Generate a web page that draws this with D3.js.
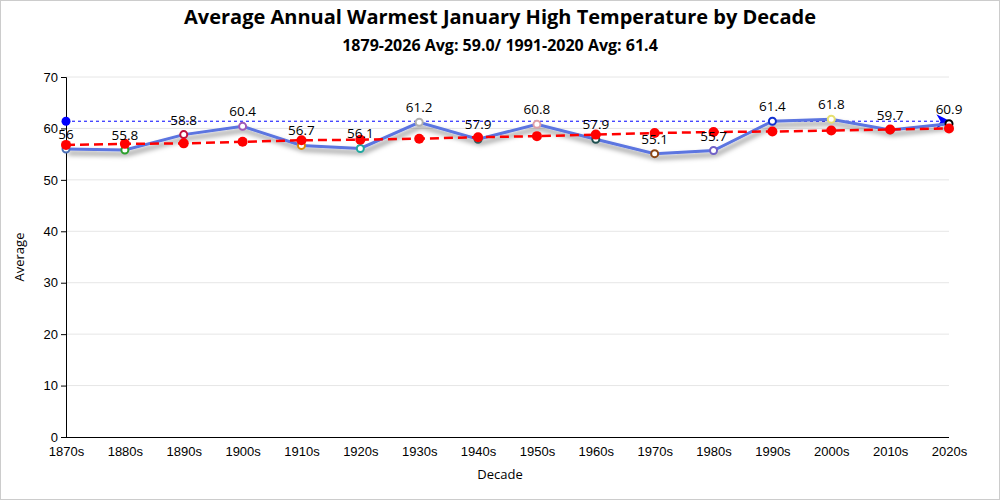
<!DOCTYPE html>
<html><head><meta charset="utf-8">
<script src="https://cdn.jsdelivr.net/npm/d3@7"></script>
<style>
body{margin:0;background:#fff;}
svg{font-family:"Open Sans","Noto Sans",sans-serif;}
</style></head>
<body><svg id="c" width="1000" height="500"></svg>
<script>
const decades = ["1870s","1880s","1890s","1900s","1910s","1920s","1930s","1940s","1950s","1960s","1970s","1980s","1990s","2000s","2010s","2020s"];
const averages = [56.0,55.8,58.8,60.4,56.7,56.1,61.2,57.9,60.8,57.9,55.1,55.7,61.4,61.8,59.7,60.9];
const trend = [56.8,57.0,57.1,57.4,57.7,57.8,58.0,58.3,58.5,58.8,59.1,59.3,59.4,59.6,59.8,60.0];
const normalAvg = 61.4;
const markerColors = ["#4a6fb5","#2ca02c","#c0103c","#a05ab8","#e08a00","#20a8a0","#b0b0b0","#2f5f5f","#e0a0a8","#1f5050","#8b4513","#7060c8","#1030d0","#e6e070","#808080","#000000"];
const yTicks = [0,10,20,30,40,50,60,70];

const svg = d3.select("#c");
svg.append("rect").attr("x",0.5).attr("y",0.5).attr("width",999).attr("height",499).attr("fill","#fff").attr("stroke","#ccc");
const defs = svg.append("defs");
const f = defs.append("filter").attr("id","sh").attr("x","-10%").attr("y","-50%").attr("width","120%").attr("height","200%");
f.append("feDropShadow").attr("dx",2).attr("dy",4).attr("stdDeviation",2.5).attr("flood-color","#000").attr("flood-opacity",0.5);
defs.append("marker").attr("id","arr").attr("viewBox","0 0 10 10").attr("refX",9).attr("refY",5)
  .attr("markerWidth",16).attr("markerHeight",14).attr("markerUnits","userSpaceOnUse").attr("orient","auto")
  .append("path").attr("d","M0,0 L10,5 L0,10 L3,5 Z").attr("fill","#0000ff");

const L=66,R=949,T=77,B=437;
const x = d3.scalePoint().domain(decades).range([L,R]);
const y = d3.scaleLinear().domain([0,70]).range([B,T]);

// grid
svg.append("g").selectAll("line").data(yTicks.filter(d=>d>0)).join("line")
  .attr("x1",L).attr("x2",R).attr("y1",d=>y(d)).attr("y2",d=>y(d)).attr("stroke","#e6e6e6");

// axes
const ya = svg.append("g").attr("transform",`translate(${L},0)`).call(d3.axisLeft(y).tickValues(yTicks).tickSize(5).tickPadding(3));
ya.selectAll("text").attr("font-size",13).attr("fill","#000");
ya.select(".domain").attr("stroke","#000");
const xa = svg.append("g").attr("transform",`translate(0,${B})`).call(d3.axisBottom(x).tickSize(0).tickPadding(10).tickSizeOuter(0));
xa.selectAll("text").attr("font-size",13).attr("fill","#000");
xa.select(".domain").attr("stroke","#000").attr("d",`M${L},0.5H${R}`);

// titles
svg.append("text").attr("x",500).attr("y",24).attr("text-anchor","middle").attr("font-size",20).attr("font-weight","bold").text("Average Annual Warmest January High Temperature by Decade");
svg.append("text").attr("x",500).attr("y",51).attr("text-anchor","middle").attr("font-size",16).attr("font-weight","bold").text("1879-2026 Avg: 59.0/ 1991-2020 Avg: 61.4");
svg.append("text").attr("x",500).attr("y",479).attr("text-anchor","middle").attr("font-size",13).text("Decade");
svg.append("text").attr("transform","translate(24,257) rotate(-90)").attr("text-anchor","middle").attr("font-size",13).text("Average");

// normal avg line
svg.append("line").attr("x1",x(decades[0])).attr("x2",x(decades[decades.length-1])).attr("y1",y(normalAvg)).attr("y2",y(normalAvg))
  .attr("stroke","#0000ff").attr("stroke-width",1).attr("stroke-dasharray","3,3").attr("marker-end","url(#arr)");
svg.append("circle").attr("cx",x(decades[0])).attr("cy",y(normalAvg)).attr("r",4.5).attr("fill","#0000ff");

// main line
const line = d3.line().x((d,i)=>x(decades[i])).y(d=>y(d));
svg.append("path").datum(averages).attr("d",line).attr("fill","none").attr("stroke","#5b74e0").attr("stroke-width",3).attr("filter","url(#sh)");
svg.append("g").selectAll("circle").data(averages).join("circle")
  .attr("cx",(d,i)=>x(decades[i])).attr("cy",d=>y(d)).attr("r",3.5).attr("fill","#fff")
  .attr("stroke",(d,i)=>markerColors[i]).attr("stroke-width",2);

// trend
svg.append("path").datum(trend).attr("d",line).attr("fill","none").attr("stroke","#ff0000").attr("stroke-width",2.5).attr("stroke-dasharray","9,5");
svg.append("g").selectAll("circle").data(trend).join("circle")
  .attr("cx",(d,i)=>x(decades[i])).attr("cy",d=>y(d)).attr("r",5).attr("fill","#ff0000");

// labels
svg.append("g").selectAll("text").data(averages).join("text")
  .attr("x",(d,i)=>x(decades[i])).attr("y",d=>y(d)-10).attr("text-anchor","middle").attr("font-size",13.5).attr("fill","#000")
  .text(d=>d3.format("")(+d.toFixed(1)));
</script></body></html>
